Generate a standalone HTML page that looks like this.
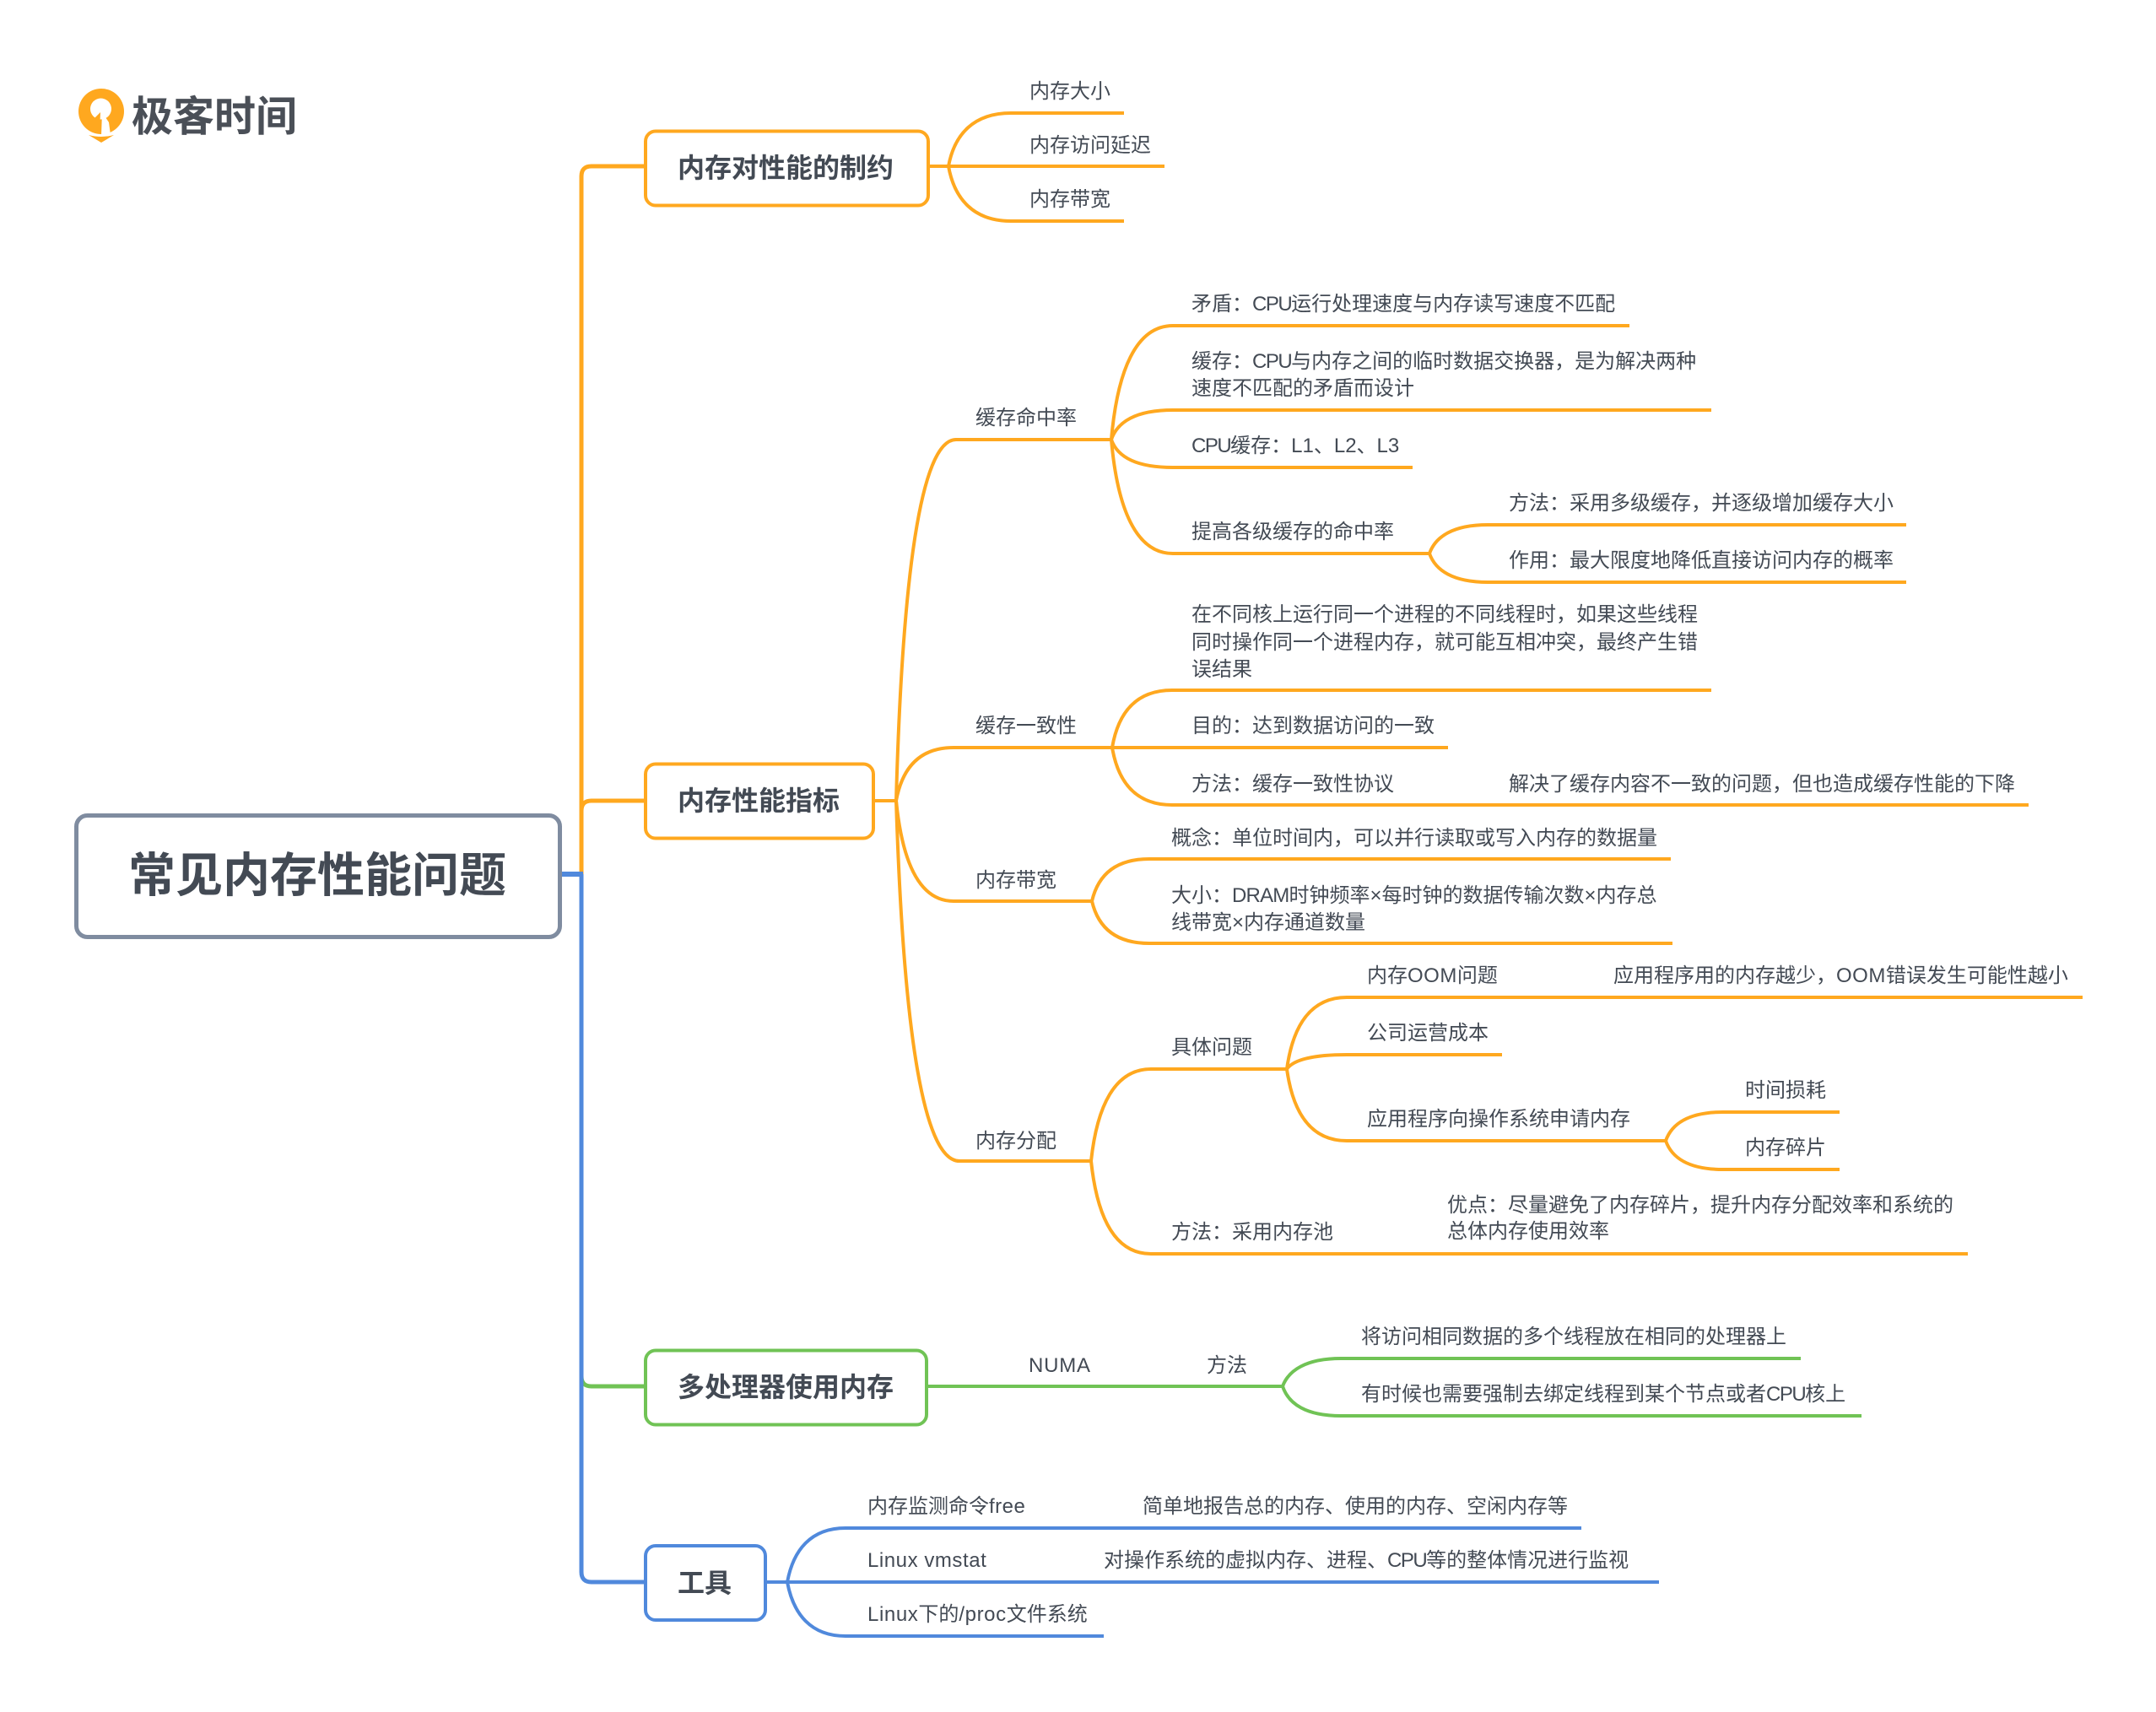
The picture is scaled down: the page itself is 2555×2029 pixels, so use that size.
<!DOCTYPE html>
<html lang="zh">
<head>
<meta charset="utf-8">
<title>常见内存性能问题</title>
<style>
html,body{margin:0;padding:0;background:#fff;}
svg{display:block;}
text{font-family:"Liberation Sans","Noto Sans CJK SC",sans-serif;fill:#434a54;}
.t{font-size:24px;}
.b{font-size:32px;font-weight:700;}
.r{font-size:56px;font-weight:700;}
.l{fill:none;stroke-width:4;stroke-linecap:butt;}
.o{stroke:#FFA81F;}
.g{stroke:#70C355;}
.u{stroke:#5089DC;}
.c{letter-spacing:-1.5px;}
</style>
</head>
<body>
<svg xmlns="http://www.w3.org/2000/svg" width="2555" height="2029" viewBox="0 0 2555 2029">
<rect width="2555" height="2029" fill="#fff"/>

<!-- logo -->
<g>
<circle cx="120" cy="132" r="27" fill="#FFA81F"/>
<circle cx="119.500" cy="129" r="12.500" fill="#fff"/>
<path d="M121 133L129 145L131 160L120 161Z" fill="#fff"/>
<path d="M119 133L108 144L118 158Z" fill="#FFA81F"/>
<path d="M105 160Q120 164 135 160L120 169Z" fill="#FFA81F"/>
<text x="156" y="155" style="font-size:49px;font-weight:700;fill:#4a4f57">极客时间</text>
</g>

<!-- trunk -->
<path class="l o" style="stroke-width:5" d="M689 1036V209Q689 197 701 197H768"/>
<path class="l o" style="stroke-width:5" d="M689 1036V961Q689 949 701 949H768"/>
<path class="l g" style="stroke-width:5" d="M689 1631Q689 1643 701 1643H768"/>
<path class="l u" style="stroke-width:5" d="M689 1036V1863Q689 1875 701 1875H768"/>
<path class="l u" style="stroke-width:6" d="M665 1036H691"/>

<!-- branch 1 -->
<path class="l o" d="M1100 197H1380"/>
<path class="l o" d="M1124 197C1131 159 1154 134 1198 134H1332"/>
<path class="l o" d="M1124 197C1131 236 1154 262 1198 262H1332"/>

<!-- branch 2 -->
<path class="l o" d="M1035 949H1062"/>
<path class="l o" d="M1062 949C1069 692 1090 521 1133 521H1317"/>
<path class="l o" d="M1062 949C1069 911 1089 886 1130 886H1318"/>
<path class="l o" d="M1062 949C1069 1020 1089 1068 1130 1068H1294"/>
<path class="l o" d="M1062 949C1070 1205 1092 1376 1137 1376H1293"/>

<path class="l o" d="M1317 521C1324 440 1346 386 1390 386H1931"/>
<path class="l o" d="M1317 521C1324 500 1346 486 1390 486H2028"/>
<path class="l o" d="M1317 521C1324 541 1346 554 1390 554H1674"/>
<path class="l o" d="M1317 521C1324 602 1346 656 1390 656H1694"/>
<path class="l o" d="M1694 656C1701 636 1722 622 1763 622H2259"/>
<path class="l o" d="M1694 656C1701 676 1722 690 1763 690H2259"/>

<path class="l o" d="M1318 886C1325 845 1346 818 1389 818H2028"/>
<path class="l o" d="M1318 886H1716"/>
<path class="l o" d="M1318 886C1325 927 1346 954 1389 954H2404"/>

<path class="l o" d="M1294 1068C1301 1038 1321 1018 1362 1018H1980"/>
<path class="l o" d="M1294 1068C1301 1098 1321 1118 1362 1118H1982"/>

<path class="l o" d="M1293 1376C1300 1311 1321 1267 1364 1267H1525"/>
<path class="l o" d="M1293 1376C1300 1442 1321 1486 1364 1486H2332"/>
<path class="l o" d="M1525 1267C1532 1216 1553 1182 1596 1182H2468"/>
<path class="l o" d="M1525 1267C1532 1257 1553 1250 1596 1250H1780"/>
<path class="l o" d="M1525 1267C1532 1318 1553 1352 1596 1352H1974"/>
<path class="l o" d="M1974 1352C1981 1332 2001 1318 2042 1318H2180"/>
<path class="l o" d="M1974 1352C1981 1372 2001 1386 2042 1386H2180"/>

<!-- branch 3 -->
<path class="l g" d="M1098 1643H1520"/>
<path class="l g" d="M1520 1643C1527 1624 1548 1610 1589 1610H2134"/>
<path class="l g" d="M1520 1643C1527 1664 1548 1678 1589 1678H2206"/>

<!-- branch 4 -->
<path class="l u" d="M907 1875H1966"/>
<path class="l u" d="M933 1875C940 1837 961 1811 1002 1811H1874"/>
<path class="l u" d="M933 1875C940 1913 961 1939 1002 1939H1308"/>

<!-- boxes -->
<rect x="90.500" y="966.500" width="573" height="144" rx="13" fill="#fff" stroke="#7F8CA0" stroke-width="5"/>
<rect x="765" y="155.500" width="335" height="88" rx="12" fill="#fff" stroke="#FFA81F" stroke-width="4"/>
<rect x="765" y="905.500" width="270" height="88" rx="12" fill="#fff" stroke="#FFA81F" stroke-width="4"/>
<rect x="765" y="1600.500" width="333" height="88" rx="12" fill="#fff" stroke="#70C355" stroke-width="4"/>
<rect x="765" y="1832" width="142" height="88" rx="12" fill="#fff" stroke="#5089DC" stroke-width="4"/>

<text class="r" x="152" y="1057">常见内存性能问题</text>
<text class="b" x="803" y="210">内存对性能的制约</text>
<text class="b" x="803" y="960">内存性能指标</text>
<text class="b" x="803" y="1655">多处理器使用内存</text>
<text class="b" x="803" y="1887">工具</text>

<!-- labels -->
<text class="t" x="1220" y="116">内存大小</text>
<text class="t" x="1220" y="180">内存访问延迟</text>
<text class="t" x="1220" y="244">内存带宽</text>

<text class="t" x="1156" y="503">缓存命中率</text>
<text class="t" x="1412" y="368">矛盾：<tspan class="c">CPU</tspan>运行处理速度与内存读写速度不匹配</text>
<text class="t" x="1412" y="436">缓存：<tspan class="c">CPU</tspan>与内存之间的临时数据交换器，是为解决两种</text>
<text class="t" x="1412" y="468">速度不匹配的矛盾而设计</text>
<text class="t" x="1412" y="536"><tspan class="c">CPU</tspan>缓存：L1、L2、L3</text>
<text class="t" x="1412" y="638">提高各级缓存的命中率</text>
<text class="t" x="1788" y="604">方法：采用多级缓存，并逐级增加缓存大小</text>
<text class="t" x="1788" y="672">作用：最大限度地降低直接访问内存的概率</text>

<text class="t" x="1156" y="868">缓存一致性</text>
<text class="t" x="1412" y="736">在不同核上运行同一个进程的不同线程时，如果这些线程</text>
<text class="t" x="1412" y="769">同时操作同一个进程内存，就可能互相冲突，最终产生错</text>
<text class="t" x="1412" y="801">误结果</text>
<text class="t" x="1412" y="868">目的：达到数据访问的一致</text>
<text class="t" x="1412" y="937">方法：缓存一致性协议</text>
<text class="t" x="1788" y="937">解决了缓存内容不一致的问题，但也造成缓存性能的下降</text>

<text class="t" x="1156" y="1051">内存带宽</text>
<text class="t" x="1388" y="1001">概念：单位时间内，可以并行读取或写入内存的数据量</text>
<text class="t" x="1388" y="1069">大小：<tspan style="letter-spacing:-.8px">DRAM</tspan>时钟频率×每时钟的数据传输次数×内存总</text>
<text class="t" x="1388" y="1101">线带宽×内存通道数量</text>

<text class="t" x="1156" y="1360">内存分配</text>
<text class="t" x="1388" y="1249">具体问题</text>
<text class="t" x="1620" y="1164">内存<tspan style="letter-spacing:.5px">OOM</tspan>问题</text>
<text class="t" x="1912" y="1164">应用程序用的内存越少，<tspan style="letter-spacing:.5px">OOM</tspan>错误发生可能性越小</text>
<text class="t" x="1620" y="1232">公司运营成本</text>
<text class="t" x="1620" y="1334">应用程序向操作系统申请内存</text>
<text class="t" x="2068" y="1300">时间损耗</text>
<text class="t" x="2068" y="1368">内存碎片</text>
<text class="t" x="1388" y="1468">方法：采用内存池</text>
<text class="t" x="1715" y="1436">优点：尽量避免了内存碎片，提升内存分配效率和系统的</text>
<text class="t" x="1715" y="1467">总体内存使用效率</text>

<text class="t" x="1219" y="1626" style="letter-spacing:.8px">NUMA</text>
<text class="t" x="1430" y="1626">方法</text>
<text class="t" x="1613" y="1592">将访问相同数据的多个线程放在相同的处理器上</text>
<text class="t" x="1613" y="1660">有时候也需要强制去绑定线程到某个节点或者<tspan class="c">CPU</tspan>核上</text>

<text class="t" x="1028" y="1793">内存监测命令<tspan style="letter-spacing:.5px">free</tspan></text>
<text class="t" x="1354" y="1793">简单地报告总的内存、使用的内存、空闲内存等</text>
<text class="t" x="1028" y="1857" style="letter-spacing:.55px">Linux vmstat</text>
<text class="t" x="1308" y="1857">对操作系统的虚拟内存、进程、<tspan class="c">CPU</tspan>等的整体情况进行监视</text>
<text class="t" x="1028" y="1921"><tspan style="letter-spacing:.6px">Linux</tspan>下的<tspan style="letter-spacing:.6px">/proc</tspan>文件系统</text>
</svg>
</body>
</html>
